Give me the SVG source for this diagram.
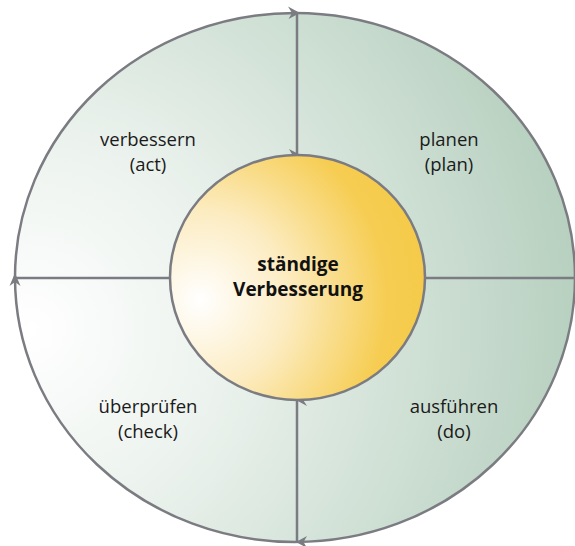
<svg xmlns="http://www.w3.org/2000/svg" width="575" height="546" viewBox="0 0 575 546">
<style>
.ln{stroke:#7b7b82;stroke-width:2.5;fill:none}
.lbl{font-family:"Open Sans",sans-serif;font-size:18.5px;fill:#1a1a1a;text-anchor:middle}
.ctr{font-family:"Open Sans",sans-serif;font-size:19px;font-weight:bold;fill:#111;text-anchor:middle}
.ah{fill:#7b7b82}
</style>
<defs>
<radialGradient id="gOuter" gradientUnits="userSpaceOnUse" cx="30" cy="330" r="570">
<stop offset="0" stop-color="#ffffff"/>
<stop offset="0.35" stop-color="#ebf2ed"/>
<stop offset="1" stop-color="#b4cebd"/>
</radialGradient>
<radialGradient id="gInner" gradientUnits="userSpaceOnUse" cx="200" cy="300" r="250">
<stop offset="0" stop-color="#ffffff"/>
<stop offset="0.35" stop-color="#fcecc2"/>
<stop offset="0.75" stop-color="#f6cd52"/>
<stop offset="1" stop-color="#f5c945"/>
</radialGradient>
</defs>
<g id="outer">
<ellipse cx="295" cy="277.5" rx="280" ry="264.5" class="ln" style="fill:url(#gOuter)"/>
</g>
<g id="connectors">
<line class="ln" x1="297" y1="13" x2="297" y2="155"/>
<line class="ln" x1="297" y1="400" x2="297" y2="542"/>
<line class="ln" x1="15" y1="278" x2="170" y2="278"/>
<line class="ln" x1="425" y1="278" x2="575" y2="278"/>
<path class="ah" d="M300,13 L288,6.5 L292,13 L288.5,19 Z"/>
<path class="ah" d="M300.5,155 L289,149 L292.5,155 L289,161 Z"/>
<path class="ah" d="M15,273 L9.5,286 L15,282 L20.5,286 Z"/>
<path class="ah" d="M296,400 L307,394.5 L303.5,400.5 L307,406 Z"/>
<path class="ah" d="M296,542 L307,536 L303.5,542 L307,548 Z"/>
</g>
<g id="center">
<ellipse cx="297.5" cy="277.5" rx="127.5" ry="122.5" class="ln" style="fill:url(#gInner)"/>
<text class="ctr" x="298" y="271">ständige</text>
<text class="ctr" x="298" y="296">Verbesserung</text>
</g>
<g id="act">
<text class="lbl" x="148" y="146">verbessern</text>
<text class="lbl" x="148" y="171">(act)</text>
</g>
<g id="plan">
<text class="lbl" x="449" y="146">planen</text>
<text class="lbl" x="449" y="171">(plan)</text>
</g>
<g id="check">
<text class="lbl" x="148" y="413">überprüfen</text>
<text class="lbl" x="148" y="438">(check)</text>
</g>
<g id="do">
<text class="lbl" x="454" y="413">ausführen</text>
<text class="lbl" x="454" y="438">(do)</text>
</g>
</svg>
